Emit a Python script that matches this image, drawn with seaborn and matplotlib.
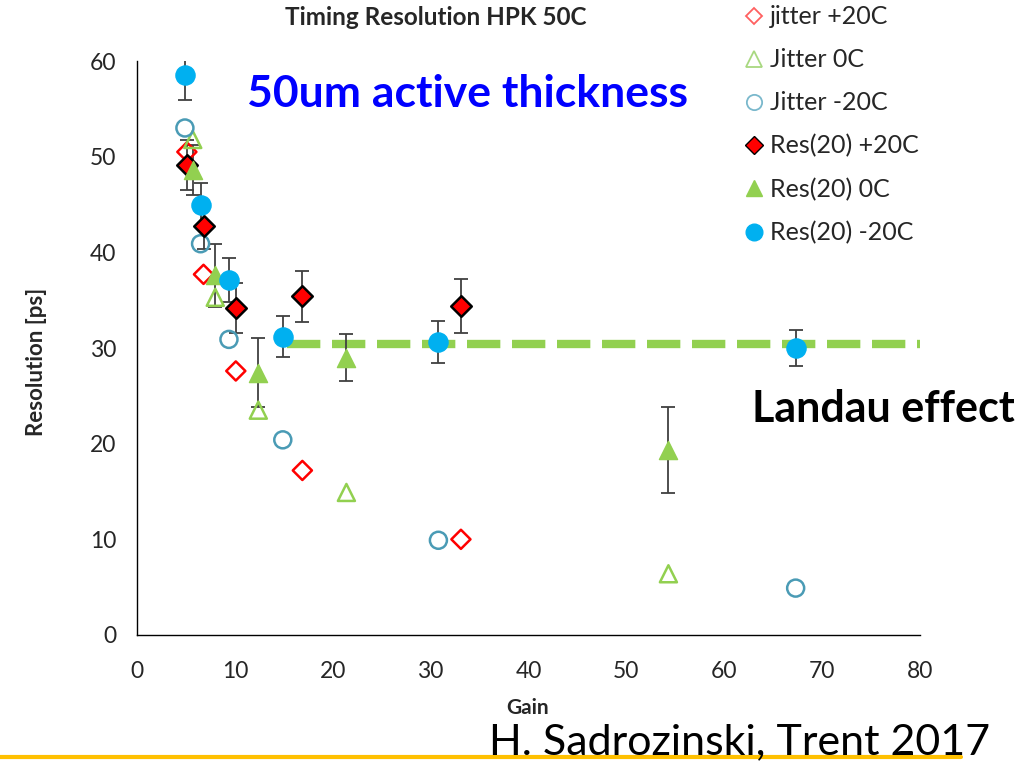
import matplotlib
matplotlib.use("Agg")
import matplotlib.pyplot as plt
import seaborn as sns
import pandas as pd
import numpy as np
from matplotlib.lines import Line2D

# ---- data ----
gain_p20 = [5.1, 6.8, 10.1, 16.9, 33.1]
gain_0 = [5.7, 8.0, 12.4, 21.4, 54.3]
gain_m20 = [4.9, 6.5, 9.4, 14.9, 30.8, 67.3]

jit_p20 = [50.5, 37.7, 27.6, 17.2, 10.0]
jit_0 = [51.8, 35.3, 23.5, 14.9, 6.4]
jit_m20 = [53.0, 40.9, 30.9, 20.4, 9.9, 4.9]

res_p20 = [49.1, 42.8, 34.2, 35.4, 34.4]
res_p20_err = [2.6, 2.4, 2.6, 2.7, 2.8]
res_0 = [48.6, 37.6, 27.4, 29.0, 19.3]
res_0_err = [2.6, 3.3, 3.6, 2.5, 4.5]
res_m20 = [58.5, 44.9, 37.1, 31.2, 30.6, 30.0]
res_m20_err = [2.6, 2.3, 2.3, 2.1, 2.2, 1.9]

landau_x = [15.3, 80.0]
landau_y = [30.4, 30.4]

xticks = [0, 10, 20, 30, 40, 50, 60, 70, 80]
yticks = [0, 10, 20, 30, 40, 50, 60]

# ---- style ----
sns.set_theme(style="white")
plt.rcParams['font.family'] = ['Lato', 'DejaVu Sans']

fig = plt.figure(figsize=(10.19, 7.61), dpi=100)
ax = fig.add_axes([0.1344, 0.1656, 0.9028 - 0.1344, 0.9198 - 0.1656])

RED = "#ff0000"
GREEN = "#92d050"
TEAL = "#4a9bb5"
CYAN = "#00b0f0"
ERR = "#404040"

# landau line
ax.plot(landau_x, landau_y, color=GREEN, lw=6, dashes=(4, 1.4), zorder=2)

# errorbars
for gx, gy, ge in [(gain_p20, res_p20, res_p20_err),
                   (gain_0, res_0, res_0_err),
                   (gain_m20, res_m20, res_m20_err)]:
    ax.errorbar(gx, gy, yerr=ge, fmt='none', ecolor=ERR, elinewidth=1.3,
                capsize=5, capthick=1.3, zorder=3)

def sc(x, y, marker, face, edge, size, lw, z):
    df = pd.DataFrame({"Gain": x, "Res": y})
    sns.scatterplot(data=df, x="Gain", y="Res", marker=marker, s=size,
                    facecolor=face, edgecolor=edge, linewidth=lw, ax=ax,
                    zorder=z, legend=False)

sc(gain_p20, jit_p20, "D", "none", RED, 95, 1.8, 4)
sc(gain_0, jit_0, "^", "none", GREEN, 150, 1.8, 4)
sc(gain_m20, jit_m20, "o", "none", TEAL, 150, 1.8, 4)
sc(gain_p20, res_p20, "D", RED, "black", 110, 1.8, 5)
sc(gain_0, res_0, "^", GREEN, GREEN, 170, 1.0, 5)
sc(gain_m20, res_m20, "o", CYAN, CYAN, 190, 1.0, 5)

ax.set_xlim(0, 80)
ax.set_ylim(0, 60)
ax.set_xticks(xticks)
ax.set_yticks(yticks)
ax.tick_params(axis='both', which='both', direction='out', length=7,
               width=1, color='black', labelsize=16.5, pad=8)
ax.tick_params(axis='x', pad=12)
for s in ['top', 'right']:
    ax.spines[s].set_visible(False)
for s in ['left', 'bottom']:
    ax.spines[s].set_color('black')
    ax.spines[s].set_linewidth(1.0)

ax.set_xlabel("")
ax.set_ylabel("")
fig.text(0.036, 0.525, "Resolution [ps]", rotation=90, ha='center', va='center',
         fontsize=16, fontweight='bold')
fig.text(0.518, 0.070, "Gain", ha='center', va='center', fontsize=15,
         fontweight='bold')

fig.text(0.428, 0.977, "Timing Resolution HPK 50C", ha='center', va='center',
         fontsize=17.5, fontweight='bold')
fig.text(0.459, 0.877, "50um active thickness", ha='center', va='center',
         fontsize=32, fontweight='bold', color="#0000ff")
fig.text(0.867, 0.463, "Landau effect", ha='center', va='center',
         fontsize=31, fontweight='bold', color="black")
fig.text(0.726, 0.025, "H. Sadrozinski, Trent 2017", ha='center', va='center',
         fontsize=31, color="black")

# bottom rule
fig.add_artist(Line2D([0.0, 0.943], [0.005, 0.005], color="#ffc000", lw=3,
                      transform=fig.transFigure))

handles = [
    Line2D([], [], ls='none', marker='D', ms=8, mfc='none', mec="#ff6060", mew=1.3),
    Line2D([], [], ls='none', marker='^', ms=11, mfc='none', mec="#a8d880", mew=1.3),
    Line2D([], [], ls='none', marker='o', ms=11, mfc='none', mec="#7ab8cc", mew=1.3),
    Line2D([], [], ls='none', marker='D', ms=9, mfc=RED, mec="black", mew=1.0),
    Line2D([], [], ls='none', marker='^', ms=12, mfc=GREEN, mec=GREEN),
    Line2D([], [], ls='none', marker='o', ms=12, mfc=CYAN, mec=CYAN),
]
labels = ["jitter +20C", "Jitter 0C", "Jitter -20C", "Res(20) +20C",
          "Res(20) 0C", "Res(20) -20C"]
fig.legend(handles, labels, loc='upper left', bbox_to_anchor=(0.718, 1.006),
           frameon=False, fontsize=18, handletextpad=0.12, labelspacing=0.8,
           handlelength=1.0, borderaxespad=0)

fig.savefig("out.png", dpi=100)
